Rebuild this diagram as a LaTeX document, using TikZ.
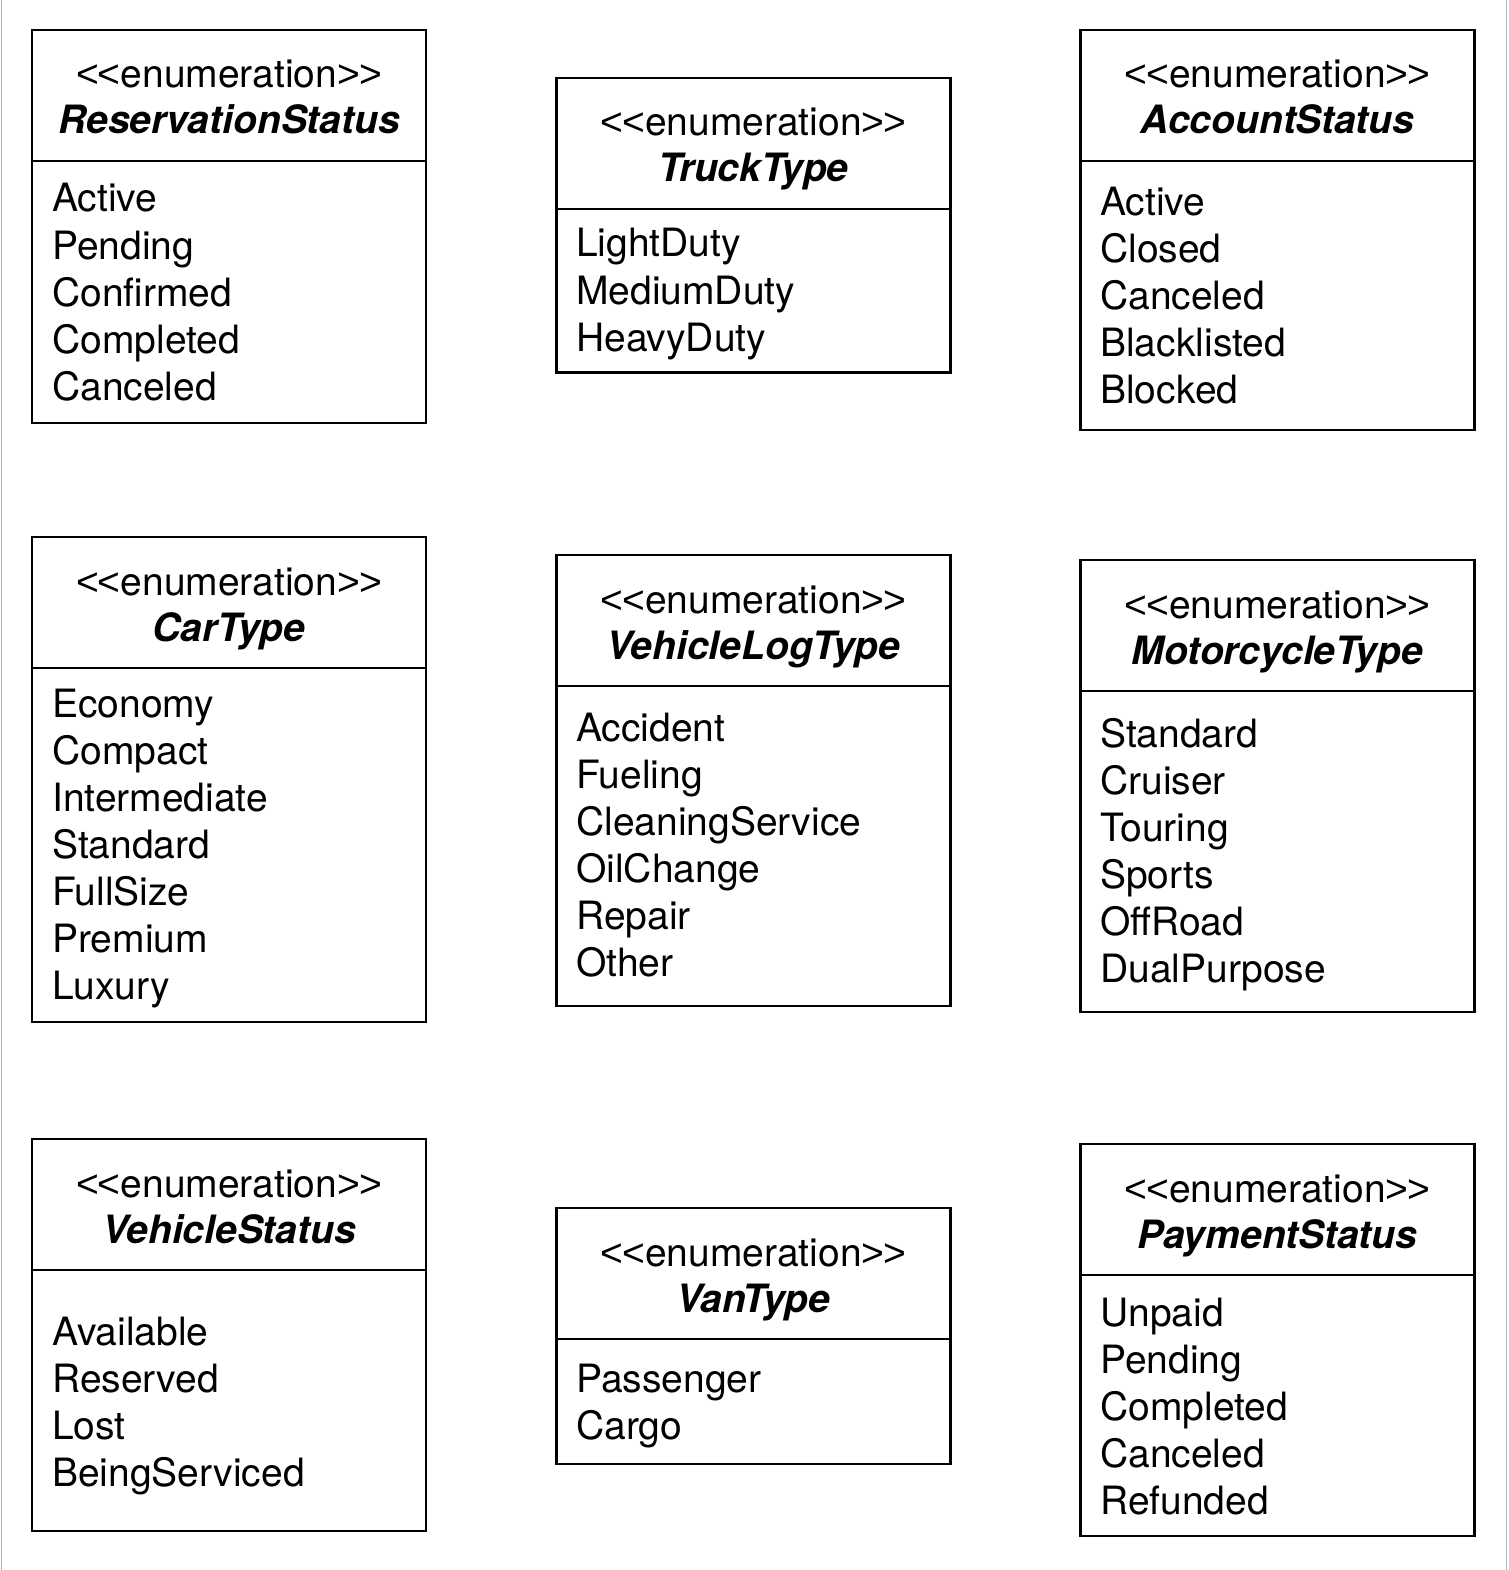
\documentclass[tikz,border=0pt]{standalone}
\usepackage{fontspec}
\setmainfont{TeX Gyre Heros}
\newfontfamily\bracketfont{Liberation Sans}
\usepackage{tikz}
\usetikzlibrary{positioning}

\newcommand{\enumtag}{{\bracketfont<\kern-1pt<}enumeration{\bracketfont>\kern-1pt>}}

\tikzset{
  enumhead/.style={draw, line width=2.8pt, minimum width=394, minimum height=131, outer sep=0pt, inner sep=0pt},
  enumbody/.style={draw, line width=2.8pt, minimum width=394, outer sep=0pt, inner sep=0pt},
  stereo/.style={anchor=base, inner sep=0pt, font=\fontsize{39}{47}\selectfont},
  enumname/.style={anchor=base, inner sep=0pt, font=\fontsize{39}{47}\selectfont\bfseries\itshape},
  literal/.style={anchor=base west, inner sep=0pt, font=\fontsize{39}{47}\selectfont},
  sideline/.style={draw=gray!60, line width=1.5pt}
}

\begin{document}
\begin{tikzpicture}[x=1pt, y=-1pt]

 \useasboundingbox (0,0) rectangle (1508,1570);

 % Thin lines at the page edges
 \draw [sideline] (1.5,0) -- (1.5,1570);
 \draw [sideline] (1506.5,0) -- (1506.5,1570);

 % ReservationStatus
 \node [enumhead] (rs) at (229,95.5) {};
 \node [enumbody, below=0pt of rs, minimum height=262] (rsbody) {};
 \node [stereo] (rstag) at (229,88) {\enumtag};
 \node [enumname] (rsname) at (229,134) {ReservationStatus};
 \foreach \lit [count=\i] in {Active,Pending,Confirmed,Completed,Canceled}
   \node [literal] (rs\i) at (52,{212+47*(\i-1)}) {\lit};

 % TruckType
 \node [enumhead] (truck) at (753.5,143.5) {};
 \node [enumbody, below=0pt of truck, minimum height=163.5] (truckbody) {};
 \node [stereo] (trucktag) at (753.5,136) {\enumtag};
 \node [enumname] (truckname) at (753.5,182) {TruckType};
 \foreach \lit [count=\i] in {LightDuty,MediumDuty,HeavyDuty}
   \node [literal] (truck\i) at (576,{257+47*(\i-1)}) {\lit};

 % AccountStatus
 \node [enumhead] (acct) at (1277.5,95.5) {};
 \node [enumbody, below=0pt of acct, minimum height=269] (acctbody) {};
 \node [stereo] (accttag) at (1277.5,88) {\enumtag};
 \node [enumname] (acctname) at (1277.5,134) {AccountStatus};
 \foreach \lit [count=\i] in {Active,Closed,Canceled,Blacklisted,Blocked}
   \node [literal] (acct\i) at (1100,{215.5+47*(\i-1)}) {\lit};

 % CarType
 \node [enumhead] (car) at (229,602.5) {};
 \node [enumbody, below=0pt of car, minimum height=354] (carbody) {};
 \node [stereo] (cartag) at (229,595) {\enumtag};
 \node [enumname] (carname) at (229,641) {CarType};
 \foreach \lit [count=\i] in {Economy,Compact,Intermediate,Standard,FullSize,Premium,Luxury}
   \node [literal] (car\i) at (52,{717+47*(\i-1)}) {\lit};

 % VehicleLogType
 \node [enumhead] (log) at (753.5,620.5) {};
 \node [enumbody, below=0pt of log, minimum height=320] (logbody) {};
 \node [stereo] (logtag) at (753.5,613) {\enumtag};
 \node [enumname] (logname) at (753.5,659) {VehicleLogType};
 \foreach \lit [count=\i] in {Accident,Fueling,CleaningService,OilChange,Repair,Other}
   \node [literal] (log\i) at (576,{741+47*(\i-1)}) {\lit};

 % MotorcycleType
 \node [enumhead] (moto) at (1277.5,625.5) {};
 \node [enumbody, below=0pt of moto, minimum height=321] (motobody) {};
 \node [stereo] (mototag) at (1277.5,618) {\enumtag};
 \node [enumname] (motoname) at (1277.5,664) {MotorcycleType};
 \foreach \lit [count=\i] in {Standard,Cruiser,Touring,Sports,OffRoad,DualPurpose}
   \node [literal] (moto\i) at (1100,{747+47*(\i-1)}) {\lit};

 % VehicleStatus
 \node [enumhead] (vstat) at (229,1204.5) {};
 \node [enumbody, below=0pt of vstat, minimum height=261] (vstatbody) {};
 \node [stereo] (vstattag) at (229,1197) {\enumtag};
 \node [enumname] (vstatname) at (229,1243) {VehicleStatus};
 \foreach \lit [count=\i] in {Available,Reserved,Lost,BeingServiced}
   \node [literal] (vstat\i) at (52,{1345+47*(\i-1)}) {\lit};

 % VanType
 \node [enumhead] (van) at (753.5,1273.5) {};
 \node [enumbody, below=0pt of van, minimum height=125] (vanbody) {};
 \node [stereo] (vantag) at (753.5,1266) {\enumtag};
 \node [enumname] (vanname) at (753.5,1312) {VanType};
 \foreach \lit [count=\i] in {Passenger,Cargo}
   \node [literal] (van\i) at (576,{1392+47*(\i-1)}) {\lit};

 % PaymentStatus
 \node [enumhead] (pay) at (1277.5,1209.5) {};
 \node [enumbody, below=0pt of pay, minimum height=261] (paybody) {};
 \node [stereo] (paytag) at (1277.5,1202) {\enumtag};
 \node [enumname] (payname) at (1277.5,1248) {PaymentStatus};
 \foreach \lit [count=\i] in {Unpaid,Pending,Completed,Canceled,Refunded}
   \node [literal] (pay\i) at (1100,{1326+47*(\i-1)}) {\lit};

\end{tikzpicture}
\end{document}
